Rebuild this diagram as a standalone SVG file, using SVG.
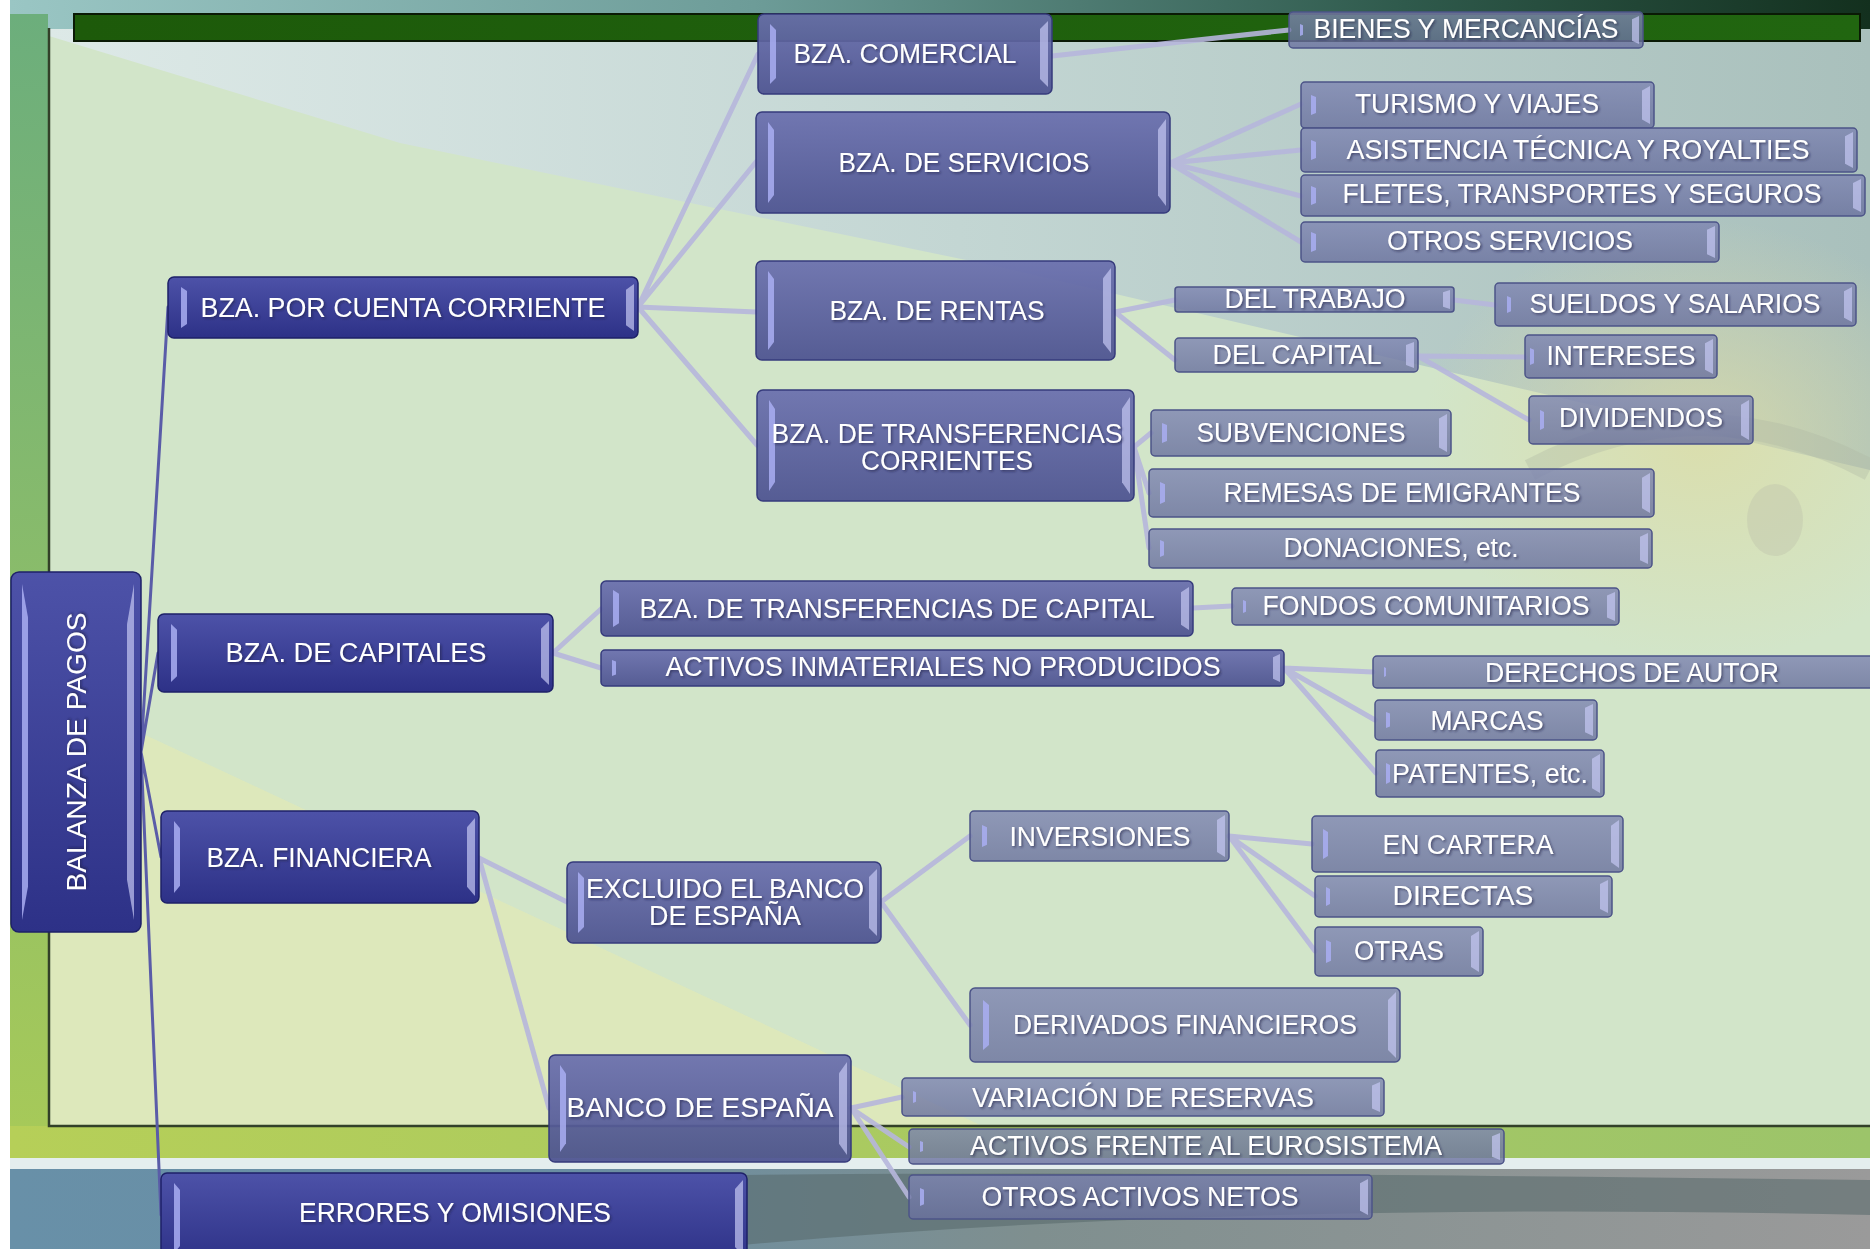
<svg xmlns="http://www.w3.org/2000/svg" xmlns:xlink="http://www.w3.org/1999/xlink" width="1870" height="1249" viewBox="0 0 1870 1249">
<style>
.n1{fill:url(#g1);stroke:#1e2168;stroke-width:1.5}
.n2{fill:url(#g2);stroke:#363b7c;stroke-width:1.5}
.n3{fill:url(#g3);stroke:#4c5488;stroke-width:1.5}
.t{font-family:"Liberation Sans",Arial,sans-serif;font-size:27px;fill:#ffffff;text-anchor:middle;filter:url(#sh)}
.c{stroke:#b6b6dc;stroke-width:5;fill:none;stroke-linecap:round;opacity:.9}
.c0{stroke:#5a5ca8;stroke-width:3;fill:none;stroke-linecap:round}
</style>
<defs>
<linearGradient id="g1" x1="0" y1="0" x2="0" y2="1"><stop offset="0" stop-color="#4d52a8"/><stop offset="1" stop-color="#2d3187"/></linearGradient>
<linearGradient id="g2" x1="0" y1="0" x2="0" y2="1"><stop offset="0" stop-color="#6a6fae" stop-opacity=".93"/><stop offset="1" stop-color="#4c5290" stop-opacity=".93"/></linearGradient>
<linearGradient id="g3" x1="0" y1="0" x2="0" y2="1"><stop offset="0" stop-color="#7e85b2" stop-opacity=".8"/><stop offset="1" stop-color="#69709e" stop-opacity=".8"/></linearGradient>
<linearGradient id="bgTop" x1="0" y1="0" x2="1" y2="0"><stop offset="0" stop-color="#9ac6c4"/><stop offset=".4" stop-color="#6d9c98"/><stop offset=".75" stop-color="#2f5a4c"/><stop offset="1" stop-color="#13301e"/></linearGradient>
<linearGradient id="bgLeft" x1="0" y1="0" x2="0" y2="1"><stop offset="0" stop-color="#6cae7c"/><stop offset="1" stop-color="#a8ca58"/></linearGradient>
<linearGradient id="bgUp" x1="0" y1="0" x2="1" y2="0"><stop offset="0" stop-color="#dde9e7"/><stop offset=".5" stop-color="#c3d6d3"/><stop offset="1" stop-color="#a9c0bc"/></linearGradient>
<linearGradient id="bgBand" x1="0" y1="0" x2="1" y2="0"><stop offset="0" stop-color="#b6cf58"/><stop offset="1" stop-color="#9cc46a"/></linearGradient>
<linearGradient id="bgBot" x1="0" y1="0" x2="1" y2="0"><stop offset="0" stop-color="#6890a8"/><stop offset=".3" stop-color="#6a8ea3"/><stop offset=".55" stop-color="#7f8f8f"/><stop offset="1" stop-color="#9a9a9a"/></linearGradient>
<linearGradient id="bar" x1="0" y1="0" x2="1" y2="0"><stop offset="0" stop-color="#1d5a0a"/><stop offset="1" stop-color="#216610"/></linearGradient>
<radialGradient id="blob"><stop offset="0" stop-color="#dcdca6" stop-opacity=".8"/><stop offset="1" stop-color="#dcdca6" stop-opacity="0"/></radialGradient>
<filter id="sh" x="-5%" y="-30%" width="110%" height="160%"><feDropShadow dx="1.5" dy="1.5" stdDeviation="1" flood-color="#1a1a40" flood-opacity=".6"/></filter>
<symbol id="bl" viewBox="0 0 10 100" preserveAspectRatio="none"><polygon points="0,0 10,10 10,90 0,100" fill="#a9aef2" opacity=".85"/></symbol>
<symbol id="br" viewBox="0 0 10 100" preserveAspectRatio="none"><polygon points="10,0 0,12 0,88 10,100" fill="#c4c8f2" opacity=".7"/></symbol>
</defs>

<g id="background">
<rect width="1870" height="1249" fill="#ffffff"/>
<rect x="10" y="0" width="1860" height="40" fill="url(#bgTop)"/>
<rect x="10" y="14" width="38" height="1150" fill="url(#bgLeft)"/>
<rect x="49" y="29" width="1821" height="1097" fill="#d2e5c9"/>
<polygon points="49,29 1870,29 1870,470 1000,267 400,143 49,36" fill="url(#bgUp)"/>
<polygon points="49,690 49,1125 980,1125" fill="#dfe9b9" opacity=".85"/>
<ellipse cx="1700" cy="440" rx="280" ry="220" fill="url(#blob)"/>
<path d="M1530,470 Q1700,380 1870,470" stroke="#b0b6a4" stroke-width="22" fill="none" opacity=".35"/>
<ellipse cx="1775" cy="520" rx="28" ry="36" fill="#c2c6ac" opacity=".45"/>
<rect x="10" y="1126" width="1860" height="34" fill="url(#bgBand)"/>
<rect x="10" y="1158" width="1860" height="11" fill="#e4eeee"/>
<rect x="10" y="1169" width="1860" height="80" fill="url(#bgBot)"/>
<path d="M620,1178 Q900,1168 1870,1180 L1870,1215 Q1200,1200 700,1249 L620,1249 Z" fill="#56686a" opacity=".55"/>
<path d="M49,28 V1126 H1870" stroke="#324028" stroke-width="2.5" fill="none"/>
<rect x="74" y="14" width="1786" height="27" fill="url(#bar)" stroke="#0a1a05" stroke-width="2"/>
</g>

<g id="connectors">
<path class="c0" d="M141,752 L168,307 M141,752 L158,653 M141,752 L161,857 M141,752 L161,1215"/>
<path class="c" d="M638,307 L758,54 M638,307 L756,162 M638,307 L756,312 M638,307 L757,445"/>
<path class="c" d="M1052,56 L1289,30"/>
<path class="c" d="M1170,163 L1301,104 M1170,163 L1301,150 M1170,163 L1301,196 M1170,163 L1301,242"/>
<path class="c" d="M1115,312 L1175,300 M1115,312 L1175,360"/>
<path class="c" d="M1454,300 L1495,305"/>
<path class="c" d="M1418,356 L1525,357 M1418,356 L1529,420"/>
<path class="c" d="M1134,447 L1151,433 M1134,447 L1149,493 M1134,447 L1149,548"/>
<path class="c" d="M553,653 L601,609 M553,653 L601,668"/>
<path class="c" d="M1193,608 L1232,606"/>
<path class="c" d="M1284,668 L1373,672 M1284,668 L1375,720 M1284,668 L1376,773"/>
<path class="c" d="M479,858 L567,902 M479,858 L549,1108"/>
<path class="c" d="M881,902 L970,836 M881,902 L970,1025"/>
<path class="c" d="M1229,836 L1312,844 M1229,836 L1315,896 M1229,836 L1315,951"/>
<path class="c" d="M851,1108 L902,1097 M851,1108 L909,1147 M851,1108 L909,1197"/>
</g>

<g id="n-balanza"><rect class="n1" x="11" y="572" width="130" height="360" rx="8"/><use href="#bl" x="22" y="584" width="6" height="336"/><use href="#br" x="127" y="584" width="7" height="336"/><text class="t" transform="translate(86,752) rotate(-90)" font-size="32" textLength="279" lengthAdjust="spacingAndGlyphs">BALANZA DE PAGOS</text></g>

<g id="n-cuenta-corriente"><rect class="n1" x="168" y="277" width="470" height="61" rx="6"/><use href="#bl" x="181" y="287" width="6" height="41"/><use href="#br" x="626" y="284" width="8" height="47"/><text class="t" x="403" y="317" textLength="405" lengthAdjust="spacingAndGlyphs">BZA. POR CUENTA CORRIENTE</text></g>
<g id="n-capitales"><rect class="n1" x="158" y="614" width="395" height="78" rx="6"/><use href="#bl" x="171" y="624" width="6" height="58"/><use href="#br" x="541" y="621" width="8" height="64"/><text class="t" x="356" y="662" textLength="261" lengthAdjust="spacingAndGlyphs">BZA. DE CAPITALES</text></g>
<g id="n-financiera"><rect class="n1" x="161" y="811" width="318" height="92" rx="6"/><use href="#bl" x="174" y="821" width="6" height="72"/><use href="#br" x="467" y="818" width="8" height="78"/><text class="t" x="319" y="867" textLength="225" lengthAdjust="spacingAndGlyphs">BZA. FINANCIERA</text></g>
<g id="n-errores"><rect class="n1" x="161" y="1173" width="586" height="90" rx="6"/><use href="#bl" x="174" y="1183" width="6" height="70"/><use href="#br" x="735" y="1180" width="8" height="76"/><text class="t" x="455" y="1222" textLength="312" lengthAdjust="spacingAndGlyphs">ERRORES Y OMISIONES</text></g>

<g id="n-comercial"><rect class="n2" x="758" y="14" width="294" height="80" rx="6"/><use href="#bl" x="770" y="24" width="6" height="60"/><use href="#br" x="1040" y="21" width="8" height="66"/><text class="t" x="905" y="63" textLength="223" lengthAdjust="spacingAndGlyphs">BZA. COMERCIAL</text></g>
<g id="n-servicios"><rect class="n2" x="756" y="112" width="414" height="101" rx="6"/><use href="#bl" x="768" y="122" width="6" height="81"/><use href="#br" x="1158" y="119" width="8" height="87"/><text class="t" x="964" y="172" textLength="251" lengthAdjust="spacingAndGlyphs">BZA. DE SERVICIOS</text></g>
<g id="n-rentas"><rect class="n2" x="756" y="261" width="359" height="99" rx="6"/><use href="#bl" x="768" y="271" width="6" height="79"/><use href="#br" x="1103" y="268" width="8" height="85"/><text class="t" x="937" y="320" textLength="215" lengthAdjust="spacingAndGlyphs">BZA. DE RENTAS</text></g>
<g id="n-transf-corrientes"><rect class="n2" x="757" y="390" width="377" height="111" rx="6"/><use href="#bl" x="769" y="400" width="6" height="91"/><use href="#br" x="1122" y="397" width="8" height="97"/><text class="t" x="947" y="443" textLength="351" lengthAdjust="spacingAndGlyphs">BZA. DE TRANSFERENCIAS</text><text class="t" x="947" y="470" textLength="172" lengthAdjust="spacingAndGlyphs">CORRIENTES</text></g>
<g id="n-transf-capital"><rect class="n2" x="601" y="581" width="592" height="55" rx="5"/><use href="#bl" x="613" y="590" width="6" height="37"/><use href="#br" x="1181" y="587" width="8" height="43"/><text class="t" x="897" y="618" textLength="515" lengthAdjust="spacingAndGlyphs">BZA. DE TRANSFERENCIAS DE CAPITAL</text></g>
<g id="n-activos-inmateriales"><rect class="n2" x="601" y="650" width="683" height="36" rx="4"/><use href="#bl" x="612" y="660" width="4" height="16"/><use href="#br" x="1273" y="654" width="7" height="28"/><text class="t" x="943" y="676" textLength="555" lengthAdjust="spacingAndGlyphs">ACTIVOS INMATERIALES NO PRODUCIDOS</text></g>
<g id="n-excluido"><rect class="n2" x="567" y="862" width="314" height="81" rx="6"/><use href="#bl" x="578" y="872" width="6" height="61"/><use href="#br" x="869" y="869" width="8" height="67"/><text class="t" x="725" y="898" textLength="278" lengthAdjust="spacingAndGlyphs">EXCLUIDO EL BANCO</text><text class="t" x="725" y="925" textLength="152" lengthAdjust="spacingAndGlyphs">DE ESPAÑA</text></g>
<g id="n-banco"><rect class="n2" x="549" y="1055" width="302" height="107" rx="6"/><use href="#bl" x="560" y="1065" width="6" height="87"/><use href="#br" x="839" y="1062" width="8" height="93"/><text class="t" x="700" y="1117" textLength="267" lengthAdjust="spacingAndGlyphs">BANCO DE ESPAÑA</text></g>

<g id="n-bienes"><rect class="n3" x="1289" y="12" width="354" height="36" rx="4"/><use href="#bl" x="1300" y="24" width="3" height="12"/><use href="#br" x="1632" y="16" width="7" height="28"/><text class="t" x="1466" y="38" textLength="305" lengthAdjust="spacingAndGlyphs">BIENES Y MERCANCÍAS</text></g>
<g id="n-turismo"><rect class="n3" x="1301" y="82" width="353" height="46" rx="4"/><use href="#bl" x="1311" y="95" width="5" height="20"/><use href="#br" x="1642" y="86" width="8" height="38"/><text class="t" x="1477" y="113" textLength="244" lengthAdjust="spacingAndGlyphs">TURISMO Y VIAJES</text></g>
<g id="n-asistencia"><rect class="n3" x="1301" y="128" width="556" height="44" rx="4"/><use href="#bl" x="1311" y="140" width="5" height="20"/><use href="#br" x="1845" y="132" width="8" height="36"/><text class="t" x="1578" y="159" textLength="463" lengthAdjust="spacingAndGlyphs">ASISTENCIA TÉCNICA Y ROYALTIES</text></g>
<g id="n-fletes"><rect class="n3" x="1301" y="175" width="564" height="41" rx="4"/><use href="#bl" x="1311" y="186" width="5" height="19"/><use href="#br" x="1853" y="179" width="8" height="33"/><text class="t" x="1582" y="203" textLength="479" lengthAdjust="spacingAndGlyphs">FLETES, TRANSPORTES Y SEGUROS</text></g>
<g id="n-otros-servicios"><rect class="n3" x="1301" y="222" width="418" height="40" rx="4"/><use href="#bl" x="1311" y="232" width="5" height="20"/><use href="#br" x="1707" y="226" width="8" height="32"/><text class="t" x="1510" y="250" textLength="246" lengthAdjust="spacingAndGlyphs">OTROS SERVICIOS</text></g>
<g id="n-trabajo"><rect class="n3" x="1175" y="287" width="279" height="25" rx="3"/><use href="#br" x="1443" y="290" width="7" height="19"/><text class="t" x="1315" y="308" textLength="181" lengthAdjust="spacingAndGlyphs">DEL TRABAJO</text></g>
<g id="n-sueldos"><rect class="n3" x="1495" y="283" width="361" height="43" rx="4"/><use href="#bl" x="1507" y="296" width="4" height="17"/><use href="#br" x="1844" y="287" width="8" height="35"/><text class="t" x="1675" y="313" textLength="291" lengthAdjust="spacingAndGlyphs">SUELDOS Y SALARIOS</text></g>
<g id="n-del-capital"><rect class="n3" x="1175" y="338" width="243" height="34" rx="4"/><use href="#br" x="1406" y="342" width="8" height="26"/><text class="t" x="1297" y="364" textLength="169" lengthAdjust="spacingAndGlyphs">DEL CAPITAL</text></g>
<g id="n-intereses"><rect class="n3" x="1525" y="335" width="192" height="43" rx="4"/><use href="#bl" x="1530" y="348" width="4" height="17"/><use href="#br" x="1705" y="339" width="8" height="35"/><text class="t" x="1621" y="365" textLength="149" lengthAdjust="spacingAndGlyphs">INTERESES</text></g>
<g id="n-dividendos"><rect class="n3" x="1529" y="396" width="224" height="48" rx="4"/><use href="#bl" x="1540" y="410" width="4" height="20"/><use href="#br" x="1741" y="400" width="8" height="40"/><text class="t" x="1641" y="427" textLength="164" lengthAdjust="spacingAndGlyphs">DIVIDENDOS</text></g>
<g id="n-subvenciones"><rect class="n3" x="1151" y="410" width="300" height="46" rx="4"/><use href="#bl" x="1162" y="423" width="5" height="20"/><use href="#br" x="1439" y="414" width="8" height="38"/><text class="t" x="1301" y="442" textLength="209" lengthAdjust="spacingAndGlyphs">SUBVENCIONES</text></g>
<g id="n-remesas"><rect class="n3" x="1149" y="469" width="505" height="48" rx="4"/><use href="#bl" x="1160" y="482" width="5" height="22"/><use href="#br" x="1642" y="473" width="8" height="40"/><text class="t" x="1402" y="502" textLength="357" lengthAdjust="spacingAndGlyphs">REMESAS DE EMIGRANTES</text></g>
<g id="n-donaciones"><rect class="n3" x="1149" y="529" width="503" height="39" rx="4"/><use href="#bl" x="1160" y="540" width="4" height="17"/><use href="#br" x="1640" y="533" width="8" height="31"/><text class="t" x="1401" y="557" textLength="235" lengthAdjust="spacingAndGlyphs">DONACIONES, etc.</text></g>
<g id="n-fondos"><rect class="n3" x="1232" y="588" width="387" height="37" rx="4"/><use href="#bl" x="1243" y="600" width="3" height="13"/><use href="#br" x="1607" y="592" width="8" height="29"/><text class="t" x="1426" y="615" textLength="327" lengthAdjust="spacingAndGlyphs">FONDOS COMUNITARIOS</text></g>
<g id="n-derechos"><rect class="n3" x="1373" y="656" width="510" height="32" rx="4"/><use href="#bl" x="1384" y="667" width="2" height="10"/><text class="t" x="1632" y="682" textLength="294" lengthAdjust="spacingAndGlyphs">DERECHOS DE AUTOR</text></g>
<g id="n-marcas"><rect class="n3" x="1375" y="700" width="222" height="40" rx="4"/><use href="#bl" x="1386" y="712" width="4" height="16"/><use href="#br" x="1585" y="704" width="8" height="32"/><text class="t" x="1487" y="730" textLength="113" lengthAdjust="spacingAndGlyphs">MARCAS</text></g>
<g id="n-patentes"><rect class="n3" x="1376" y="750" width="228" height="47" rx="4"/><use href="#bl" x="1386" y="763" width="4" height="21"/><use href="#br" x="1592" y="754" width="8" height="39"/><text class="t" x="1490" y="783" textLength="196" lengthAdjust="spacingAndGlyphs">PATENTES, etc.</text></g>
<g id="n-inversiones"><rect class="n3" x="970" y="811" width="259" height="50" rx="4"/><use href="#bl" x="982" y="825" width="5" height="22"/><use href="#br" x="1217" y="815" width="8" height="42"/><text class="t" x="1100" y="846" textLength="181" lengthAdjust="spacingAndGlyphs">INVERSIONES</text></g>
<g id="n-en-cartera"><rect class="n3" x="1312" y="816" width="311" height="56" rx="4"/><use href="#bl" x="1323" y="829" width="5" height="30"/><use href="#br" x="1611" y="820" width="8" height="48"/><text class="t" x="1468" y="854" textLength="171" lengthAdjust="spacingAndGlyphs">EN CARTERA</text></g>
<g id="n-directas"><rect class="n3" x="1315" y="876" width="297" height="41" rx="4"/><use href="#bl" x="1326" y="887" width="4" height="19"/><use href="#br" x="1600" y="880" width="8" height="33"/><text class="t" x="1463" y="905" textLength="141" lengthAdjust="spacingAndGlyphs">DIRECTAS</text></g>
<g id="n-otras"><rect class="n3" x="1315" y="927" width="168" height="49" rx="4"/><use href="#bl" x="1326" y="940" width="5" height="23"/><use href="#br" x="1471" y="931" width="8" height="41"/><text class="t" x="1399" y="960" textLength="90" lengthAdjust="spacingAndGlyphs">OTRAS</text></g>
<g id="n-derivados"><rect class="n3" x="970" y="988" width="430" height="74" rx="5"/><use href="#bl" x="983" y="1000" width="6" height="50"/><use href="#br" x="1388" y="992" width="8" height="66"/><text class="t" x="1185" y="1034" textLength="344" lengthAdjust="spacingAndGlyphs">DERIVADOS FINANCIEROS</text></g>
<g id="n-variacion"><rect class="n3" x="902" y="1078" width="482" height="38" rx="4"/><use href="#bl" x="913" y="1091" width="3" height="12"/><use href="#br" x="1372" y="1082" width="8" height="30"/><text class="t" x="1143" y="1107" textLength="342" lengthAdjust="spacingAndGlyphs">VARIACIÓN DE RESERVAS</text></g>
<g id="n-eurosistema"><rect class="n3" x="909" y="1129" width="595" height="35" rx="4"/><use href="#bl" x="920" y="1141" width="3" height="11"/><use href="#br" x="1492" y="1133" width="8" height="27"/><text class="t" x="1206" y="1155" textLength="472" lengthAdjust="spacingAndGlyphs">ACTIVOS FRENTE AL EUROSISTEMA</text></g>
<g id="n-otros-activos"><rect class="n3" x="909" y="1175" width="463" height="44" rx="4"/><use href="#bl" x="920" y="1188" width="4" height="18"/><use href="#br" x="1360" y="1179" width="8" height="36"/><text class="t" x="1140" y="1206" textLength="317" lengthAdjust="spacingAndGlyphs">OTROS ACTIVOS NETOS</text></g>
</svg>
